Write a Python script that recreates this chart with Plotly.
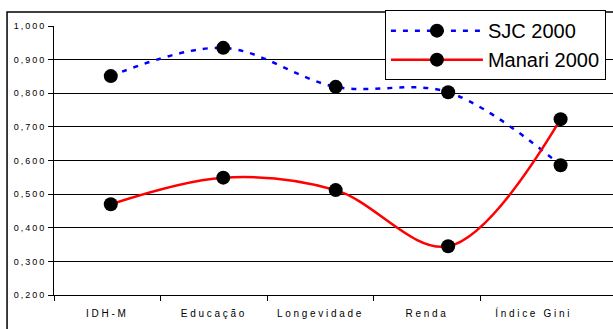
import plotly.graph_objects as go

categories = ["IDH-M", "Educação", "Longevidade", "Renda", "Índice Gini"]
sjc_2000 = [0.851, 0.935, 0.819, 0.803, 0.586]
manari_2000 = [0.470, 0.549, 0.512, 0.345, 0.723]
y_ticks = [0.2, 0.3, 0.4, 0.5, 0.6, 0.7, 0.8, 0.9, 1.0]
y_tick_labels = ["0,200", "0,300", "0,400", "0,500", "0,600", "0,700", "0,800", "0,900", "1,000"]

FONT = "Liberation Sans, Arial, sans-serif"

def spaced(t, ls):
    return f'<span style="letter-spacing:{ls}px">{t}</span>'

fig = go.Figure()
# anchor trace so the label axis (x) is drawn
fig.add_trace(go.Scatter(x=[None], y=[None], xaxis="x", yaxis="y", showlegend=False,
                         hoverinfo="skip", mode="markers"))
fig.add_trace(go.Scatter(
    x=categories, y=sjc_2000, name="SJC 2000", xaxis="x2", yaxis="y",
    mode="lines+markers", line=dict(color="#0000ff", width=2.5, dash="5px,7px", shape="spline"),
    marker=dict(color="black", size=14), cliponaxis=False,
))
fig.add_trace(go.Scatter(
    x=categories, y=manari_2000, name="Manari 2000", xaxis="x2", yaxis="y",
    mode="lines+markers", line=dict(color="#ff0000", width=2.5, shape="spline"),
    marker=dict(color="black", size=14), cliponaxis=False,
))

fig.update_layout(
    width=613, height=329,
    margin=dict(l=54, r=0, t=26, b=34, autoexpand=False),
    paper_bgcolor="white", plot_bgcolor="white",
    font=dict(family=FONT, color="black"),
    xaxis=dict(
        type="linear", range=[-0.5, 4.744],
        tickvals=list(range(len(categories))),
        ticktext=[spaced(c, 2.7) for c in categories],
        ticks="", showgrid=False, zeroline=False,
        showline=True, linecolor="black", linewidth=1,
        tickfont=dict(size=10, family=FONT, color="black"),
        ticklabelstandoff=9,
        minor=dict(tickvals=[-0.5, 0.5, 1.5, 2.5, 3.5], ticks="outside", ticklen=5,
                   tickcolor="black", tickwidth=1, showgrid=False),
    ),
    xaxis2=dict(
        type="category", categoryorder="array", categoryarray=categories,
        overlaying="x", anchor="y", range=[-0.505, 4.466], visible=False,
    ),
    yaxis=dict(
        range=[0.2, 1.0], tickvals=y_ticks,
        ticktext=[spaced(t, 2) for t in y_tick_labels],
        ticks="outside", ticklen=5, tickcolor="black",
        showgrid=True, gridcolor="black", gridwidth=1, zeroline=False,
        showline=True, linecolor="black", linewidth=1,
        tickfont=dict(size=9, family=FONT, color="black"),
    ),
    legend=dict(
        x=0.592, y=1.059, xanchor="left", yanchor="top",
        bgcolor="white", bordercolor="black", borderwidth=1,
        font=dict(size=20, family=FONT, color="black"),
        itemwidth=92, tracegroupgap=0,
    ),
    showlegend=True,
    shapes=[dict(type="rect", xref="paper", yref="paper",
                 x0=-0.084, x1=1.2, y0=-0.3, y1=1.052,
                 line=dict(color="black", width=1.5), fillcolor="rgba(0,0,0,0)", layer="below")],
)

fig.write_html(
    "out.html",
    config={"displayModeBar": False},
    post_script="document.body.style.margin='0';document.body.style.overflow='hidden';",
)
